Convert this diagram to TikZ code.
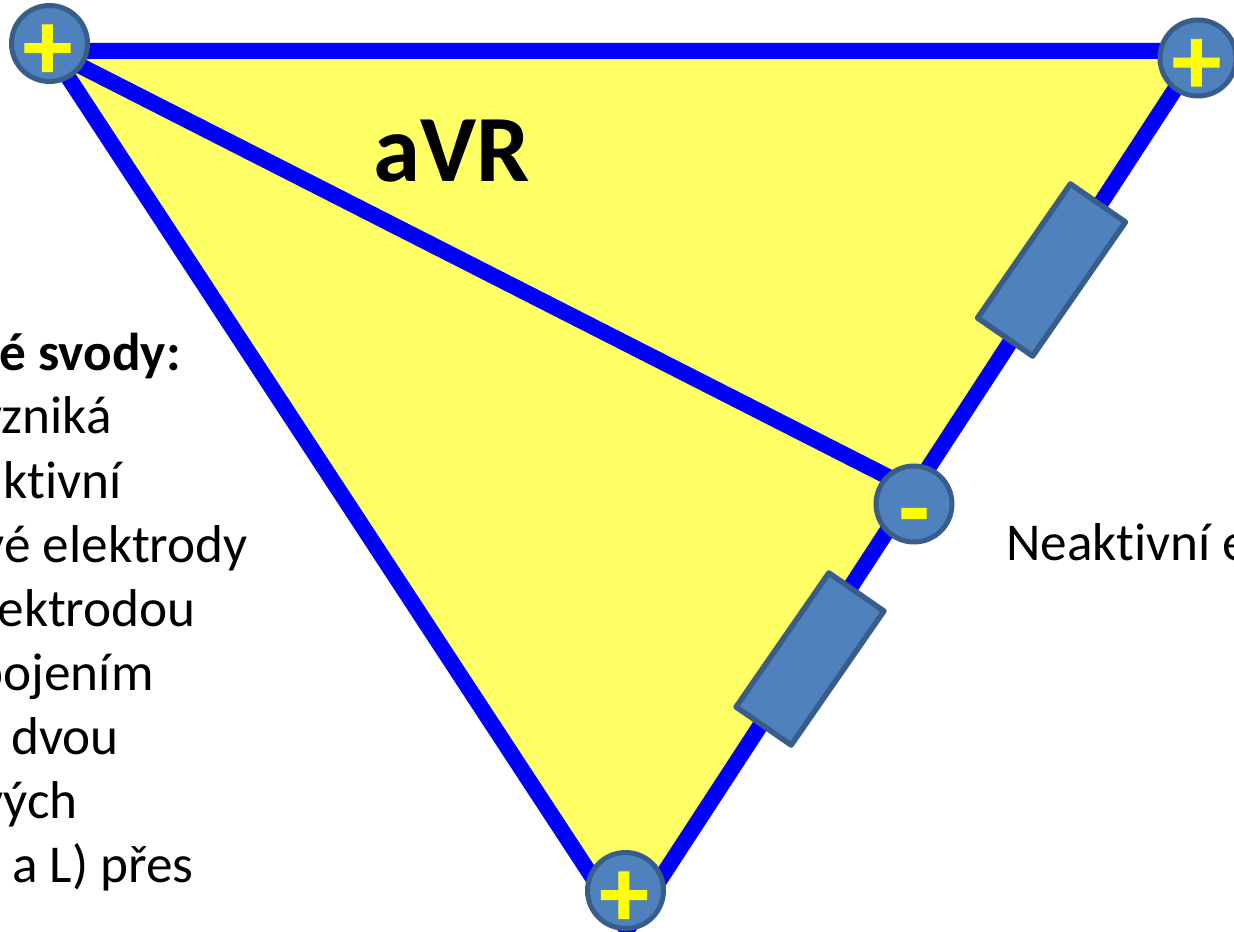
\documentclass[tikz,border=0pt]{standalone}
\usepackage{fontspec}
\setmainfont{Carlito}[Ligatures=NoCommon]
\newfontfamily\signfont{Carlito Bold}[FakeBold=1]
\definecolor{wireblue}{HTML}{0000FF}
\definecolor{fieldyellow}{HTML}{FFFF66}
\definecolor{partfill}{HTML}{4F81BD}
\definecolor{partline}{HTML}{385D8A}
\definecolor{signyellow}{HTML}{FFFF00}
\tikzset{
  wire/.style={draw=wireblue,line width=.32cm},
  elec/.style={circle,draw=partline,fill=partfill,line width=.1cm,minimum size=1.52cm,inner sep=0pt},
  res/.style={rectangle,draw=partline,fill=partfill,line width=.11cm,line join=round,minimum width=3.26cm,minimum height=1.34cm,inner sep=0pt,rotate=55.3},
  sign/.style={text=signyellow,inner sep=0pt,font=\fontsize{56}{60}\signfont},
  txt/.style={inner sep=0pt,font=\fontsize{30.3}{36}\selectfont},
  txtb/.style={inner sep=0pt,font=\fontsize{30.3}{36}\selectfont\bfseries}
}
\begin{document}
\begin{tikzpicture}[x=.02cm,y=-.02cm]
  \useasboundingbox (0,0) rectangle (1234,932);
  \clip (0,0) rectangle (1234,932);

  \coordinate (ctl) at (51,51);
  \coordinate (ctr) at (1200,51);
  \coordinate (cbo) at (627,930);
  \coordinate (cmi) at (914,490);

  \draw[wire,fill=fieldyellow] (ctl) -- (ctr) -- (cbo) -- cycle;
  \draw[wire] (ctl) -- (cmi);

  \node (rup) [res] at (1051.5,270) {};
  \node (rlo) [res] at (810,659) {};

  \node (etl) [elec] at (49.5,43.5) {};
  \node (etr) [elec] at (1198,58) {};
  \node (ebo) [elec] at (625.5,890.5) {};
  \node (emi) [elec] at (914,504) {};

  \node (stl) [sign] at (47.5,52) {+};
  \node (str) [sign] at (1196.5,66.5) {+};
  \node (sbo) [sign] at (624,899) {+};
  \node (smi) [sign] at (914,525) {-};

  \node (avr) [inner sep=0pt,font=\fontsize{54}{60}\selectfont\bfseries,anchor=base west] at (373,182) {aVR};

  % left column, cut off by the page edge
  \node (la) [txtb,anchor=base east] at (181,371) {é svody:};
  \node (lb) [txt,anchor=base east] at (112,434) {vzniká};
  \node (lc) [txt,anchor=base east] at (122,498) {ktivní};
  \node (ld) [txt,anchor=base east] at (248,562) {vé elektrody};
  \node (le) [txt,anchor=base east] at (196,626) {ektrodou};
  \node (lf) [txt,anchor=base east] at (154,690) {pojením};
  \node (lg) [txt,anchor=base east] at (119,754) {dvou};
  \node (lh) [txt,anchor=base east] at (78,818) {vých};
  \node (li) [txt,anchor=base east] at (194,882) {a L) přes};

  \node (ne) [txt,anchor=base west] at (1006,560) {Neaktivní e};
\end{tikzpicture}
\end{document}
